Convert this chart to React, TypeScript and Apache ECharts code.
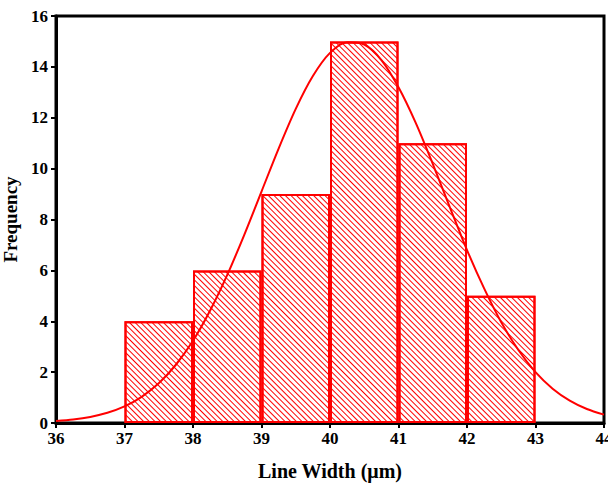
import React, { useEffect, useRef } from "react";
import * as echarts from "echarts";

const binLabels = ["36-37", "37-38", "38-39", "39-40", "40-41", "41-42", "42-43", "43-44"];
const binCounts: (number | string)[] = ["-", 4, 6, 9, 15, 11, 5, "-"];
const curveX = [36, 36.25, 36.5, 36.75, 37, 37.25, 37.5, 37.75, 38, 38.25, 38.5, 38.75, 39, 39.25, 39.5, 39.75, 40, 40.25, 40.5, 40.75, 41, 41.25, 41.5, 41.75, 42, 42.25, 42.5, 42.75, 43, 43.25, 43.5, 43.75, 44];
const curveY = [0.08, 0.14, 0.24, 0.4, 0.65, 1.03, 1.56, 2.29, 3.23, 4.42, 5.82, 7.41, 9.1, 10.79, 12.35, 13.64, 14.55, 14.97, 14.88, 14.27, 13.2, 11.81, 10.19, 8.48, 6.8, 5.29, 3.96, 2.87, 2.0, 1.35, 0.88, 0.55, 0.33];

const FONT = "'Liberation Serif', 'Times New Roman', serif";

export default function App() {
  const ref = useRef<HTMLDivElement>(null);
  useEffect(() => {
    if (!ref.current) return;
    const chart = echarts.init(ref.current, null, { renderer: "svg" });
    chart.setOption({
      animation: false,
      backgroundColor: "#fff",
      grid: {
        left: 56, right: 4, top: 16, bottom: 63,
        outerBoundsMode: "none", containLabel: false,
        show: true, borderColor: "#000", borderWidth: 3, backgroundColor: "transparent",
      },
      xAxis: [
        {
          type: "value", min: 36, max: 44, interval: 1,
          name: "Line Width (\u03bcm)", nameLocation: "middle", nameGap: 38,
          nameTextStyle: { fontFamily: FONT, fontWeight: "bold", fontSize: 20, color: "#000" },
          axisLine: { show: true, lineStyle: { color: "#000", width: 3 } },
          axisTick: { show: true, length: 5, lineStyle: { color: "#000", width: 2 } },
          axisLabel: { fontFamily: FONT, fontWeight: "bold", fontSize: 17, color: "#000", margin: 7, hideOverlap: false },
          splitLine: { show: false },
        },
        {
          type: "category", data: binLabels, position: "bottom", boundaryGap: true,
          show: false,
        },
      ],
      yAxis: {
        type: "value", min: 0, max: 16, interval: 2,
        name: "Frequency", nameLocation: "middle", nameGap: 33,
        nameTextStyle: { fontFamily: FONT, fontWeight: "bold", fontSize: 19, color: "#000" },
        axisLine: { show: true, lineStyle: { color: "#000", width: 3 } },
        axisTick: { show: true, length: 5, lineStyle: { color: "#000", width: 2 } },
        axisLabel: { fontFamily: FONT, fontWeight: "bold", fontSize: 17, color: "#000", margin: 8 },
        splitLine: { show: false },
      },
      series: [
        {
          type: "bar", xAxisIndex: 1, data: binCounts, barWidth: "100%", barGap: "0%",
          itemStyle: {
            color: "rgba(255,255,255,0)", borderColor: "#ff0000", borderWidth: 2,
            decal: {
              symbol: "rect", color: "#ff0000", backgroundColor: "rgba(255,255,255,0)",
              dashArrayX: [1, 0], dashArrayY: [1, 2.6], rotation: Math.PI / 4,
            },
          },
          z: 2,
        },
        {
          type: "line", xAxisIndex: 0, data: curveX.map((x, i) => [x, curveY[i]]),
          smooth: 0.3, showSymbol: false, symbol: "none",
          lineStyle: { color: "#ff0000", width: 2 }, z: 3,
        },
      ],
    });
    return () => chart.dispose();
  }, []);
  return <div ref={ref} style={{ width: 608, height: 486, position: "absolute", left: 0, top: 0 }} />;
}
